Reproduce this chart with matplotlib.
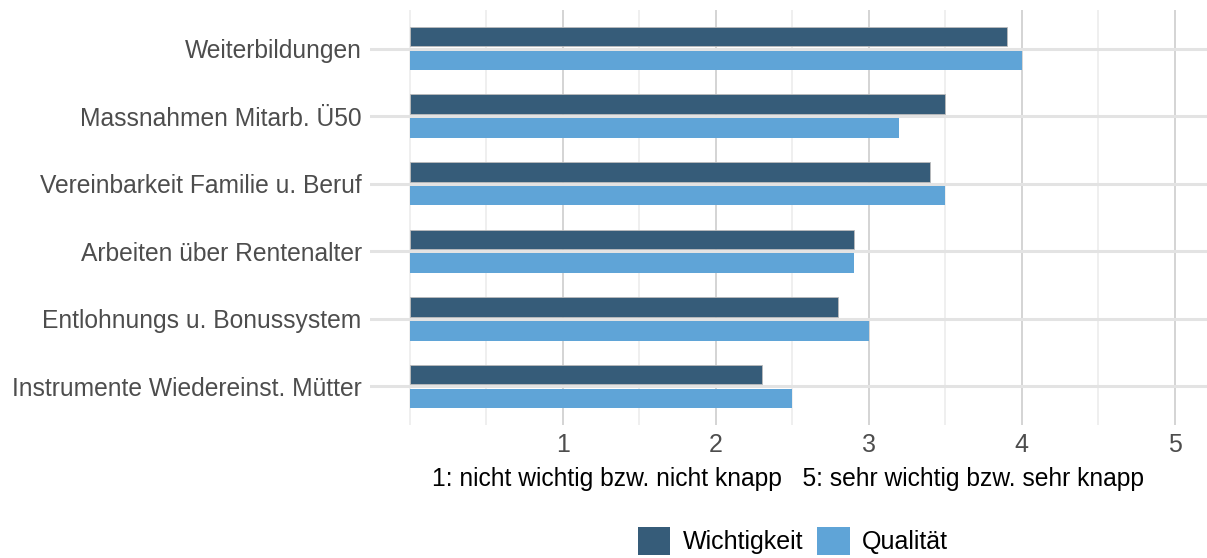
import numpy as np
import matplotlib.pyplot as plt
from matplotlib.patches import Patch

categories = ['Instrumente Wiedereinst. Mütter', 'Entlohnungs u. Bonussystem',
              'Arbeiten über Rentenalter', 'Vereinbarkeit Familie u. Beruf',
              'Massnahmen Mitarb. Ü50', 'Weiterbildungen']
wichtigkeit = [2.3, 2.8, 2.9, 3.4, 3.5, 3.9]
qualitaet   = [2.5, 3.0, 2.9, 3.5, 3.2, 4.0]
xticks      = [1, 2, 3, 4, 5]

c_dark  = '#365c79'
c_light = '#5fa4d7'

plt.rcParams['font.family'] = ['Liberation Sans', 'DejaVu Sans']

fig = plt.figure(figsize=(12.07, 5.58), dpi=100)
ax = fig.add_axes([370 / 1207, 1 - 425 / 558, 837 / 1207, 415 / 558])

y = np.arange(len(categories))
h = 0.29
off = 0.175

ax.barh(y + off, wichtigkeit, height=h, color=c_dark, edgecolor='#bbbbbb', linewidth=0.6, zorder=3)
ax.barh(y - off, qualitaet, height=h, color=c_light, edgecolor='none', zorder=3)

ax.set_xlim(-0.26, 5.21)
ax.set_ylim(-0.57, 5.57)

ax.set_xticks(xticks)
ax.set_xticks([0, 0.5, 1.5, 2.5, 3.5, 4.5], minor=True)
ax.set_yticks(y)
ax.set_yticklabels(categories)

ax.grid(axis='x', which='major', color='#d4d4d4', linewidth=1.4, zorder=0)
ax.grid(axis='x', which='minor', color='#ebebeb', linewidth=1.1, zorder=0)
ax.grid(axis='y', which='major', color='#e3e3e3', linewidth=2.2, zorder=0)

ax.tick_params(axis='both', which='both', length=0)
ax.tick_params(axis='x', labelsize=18, labelcolor='#4d4d4d', pad=6)
ax.tick_params(axis='y', labelsize=17.7, labelcolor='#4d4d4d', pad=6)

for s in ax.spines.values():
    s.set_visible(False)

ax.set_xlabel('1: nicht wichtig bzw. nicht knapp   5: sehr wichtig bzw. sehr knapp',
              fontsize=17.7, color='black', labelpad=7)

handles = [Patch(facecolor=c_dark, label='Wichtigkeit'),
           Patch(facecolor=c_light, label='Qualität')]
fig.legend(handles=handles, loc='center', bbox_to_anchor=(793 / 1207, 1 - 541 / 558),
           ncol=2, frameon=False, fontsize=18, handlelength=1.3, handleheight=1.3,
           handletextpad=0.5, columnspacing=0.55, borderaxespad=0)

fig.savefig('out.png', dpi=100)
